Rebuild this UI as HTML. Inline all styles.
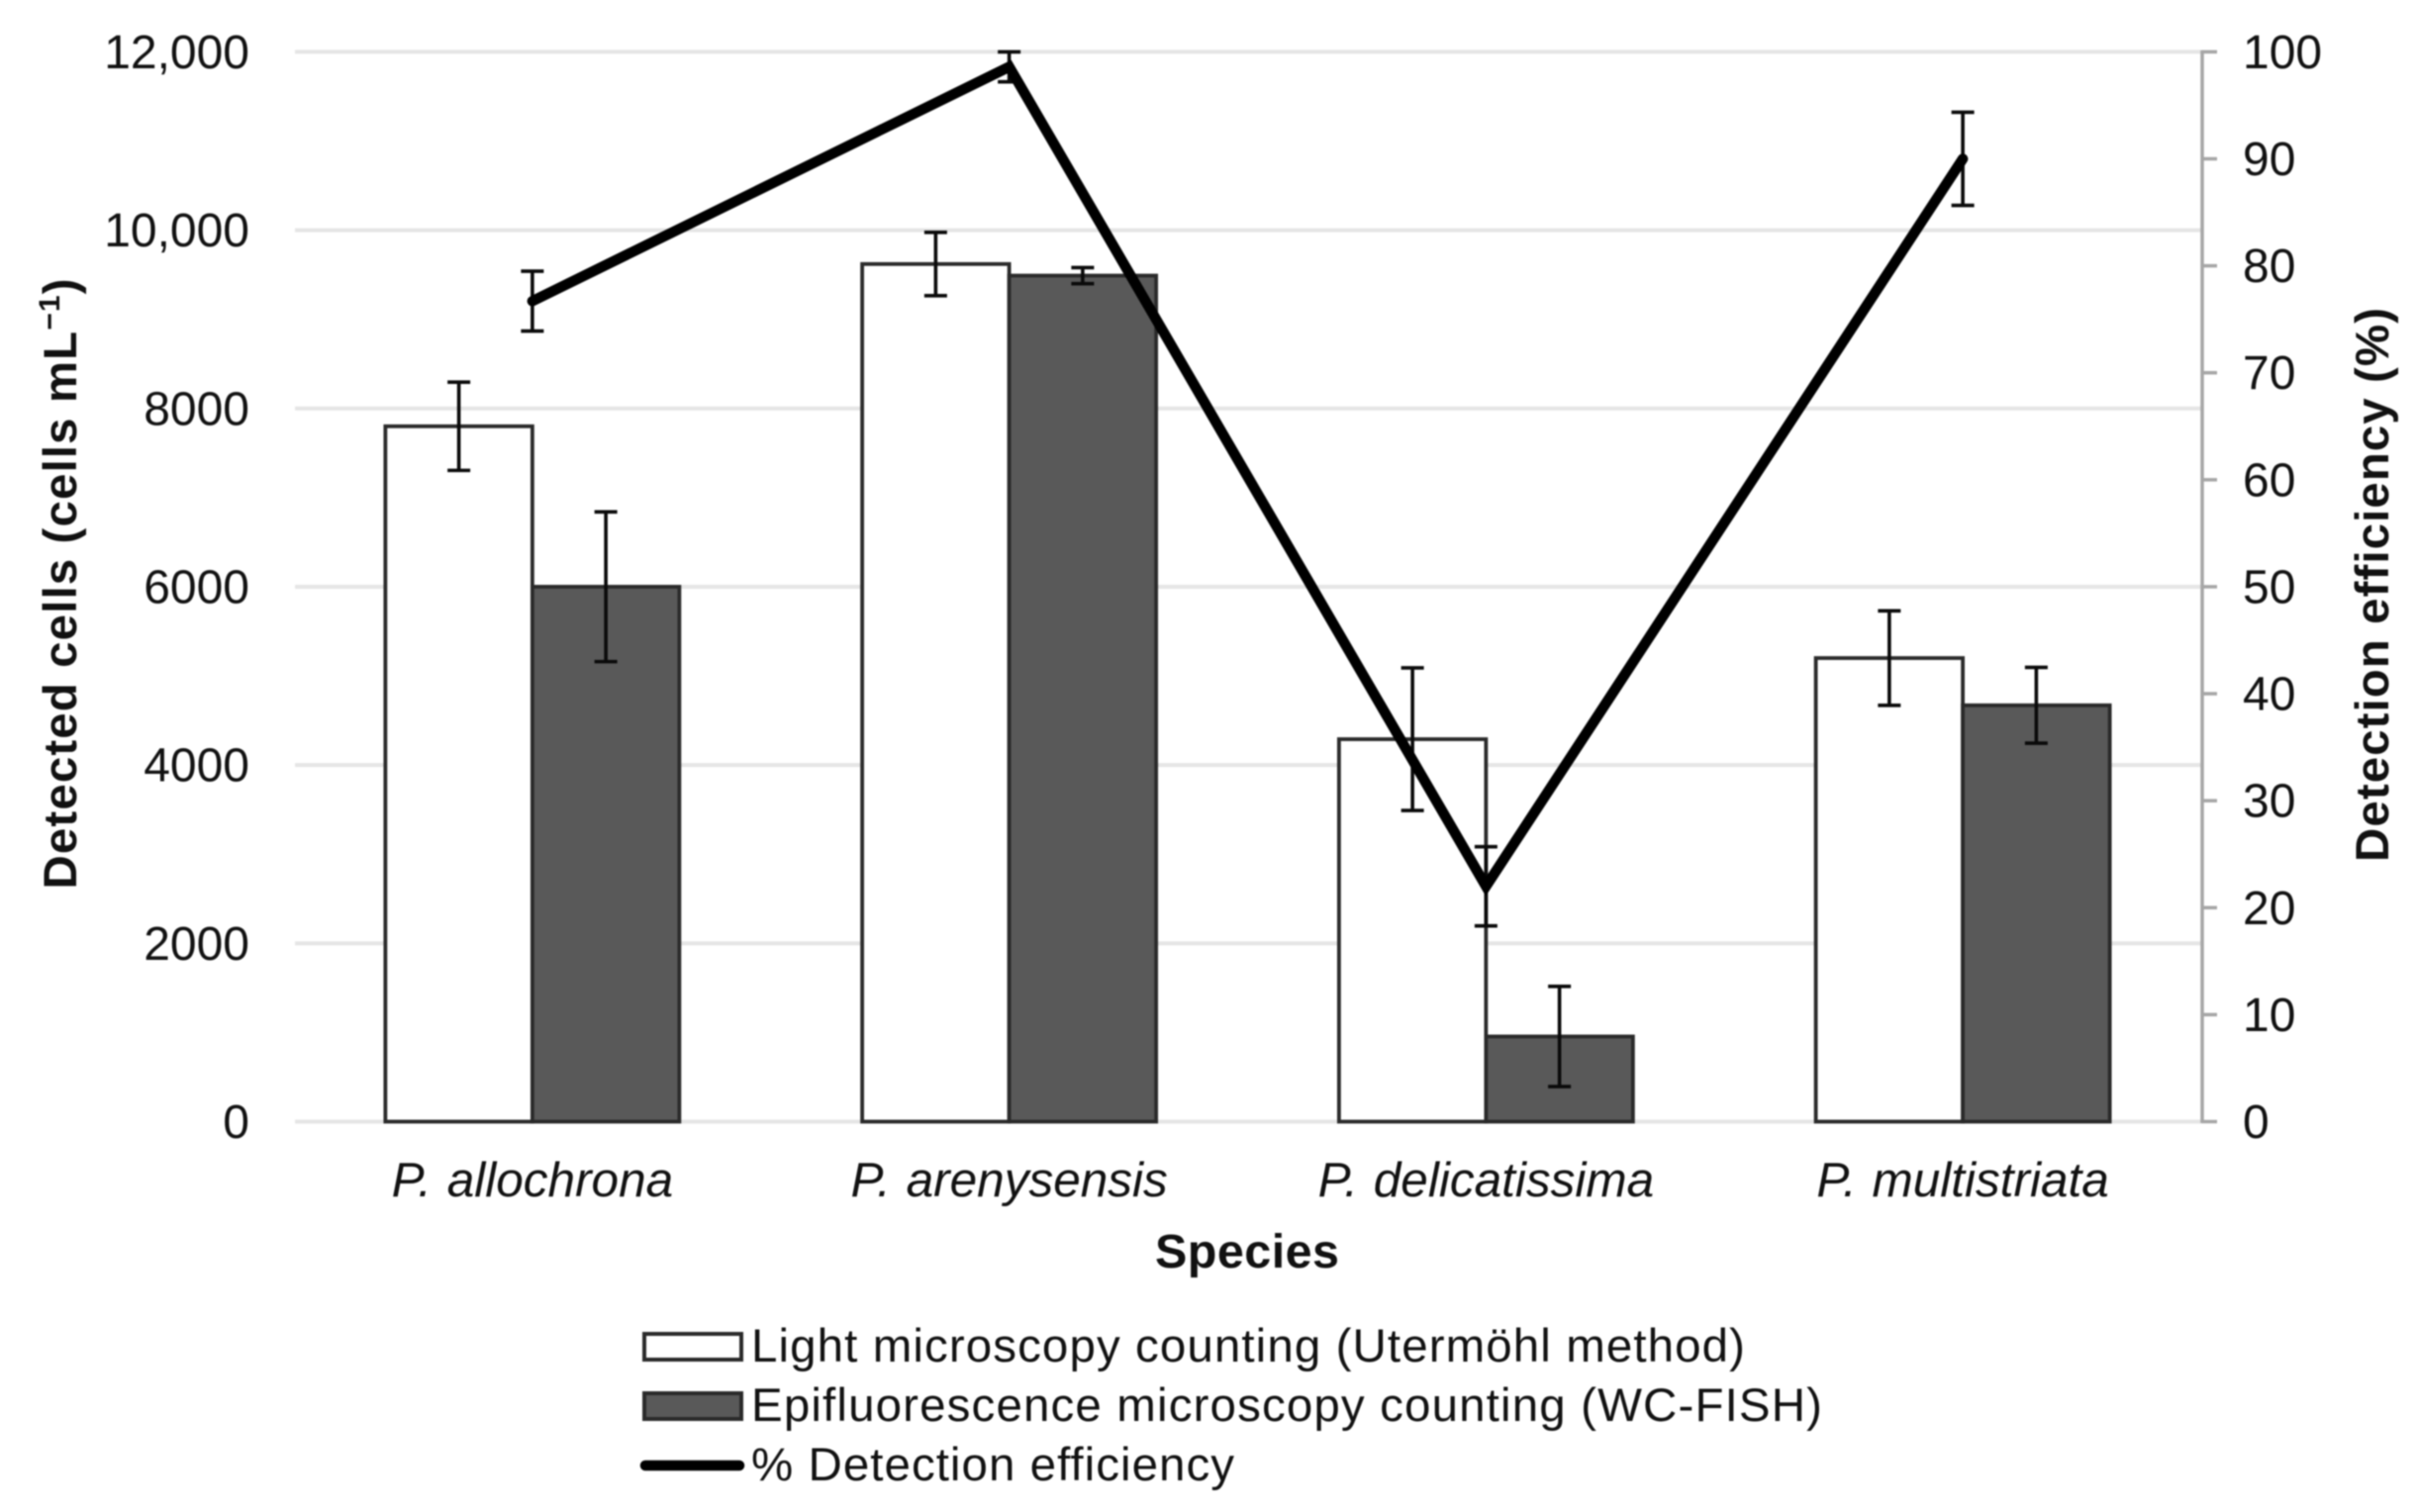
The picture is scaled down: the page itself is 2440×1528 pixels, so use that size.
<!DOCTYPE html>
<html lang="en">
<head>
<meta charset="utf-8">
<title>Detected cells and detection efficiency by species</title>
<style>
html,body{margin:0;padding:0;background:#fff;}
body{width:2440px;height:1528px;overflow:hidden;}
svg{display:block;font-family:"Liberation Sans",sans-serif;filter:blur(0.7px);}
text{fill:#111111;}
</style>
</head>
<body>
<svg id="chart" xmlns="http://www.w3.org/2000/svg" width="2440" height="1528" viewBox="0 0 2440 1528">
  <rect x="0" y="0" width="2440" height="1528" fill="#ffffff"/>
  <g id="grid"></g>
  <g id="bars"></g>
  <g id="barErrors"></g>
  <g id="lineErrors"></g>
  <g id="lineLayer"></g>
  <g id="axes"></g>

  <text transform="translate(77,590) rotate(-90)" text-anchor="middle" font-size="47.5" font-weight="700" textLength="617" lengthAdjust="spacing">Detected cells (cells mL<tspan dy="-17" font-size="30">−1</tspan><tspan dy="17">)</tspan></text>
  <text transform="translate(2413,591) rotate(-90)" text-anchor="middle" font-size="47.5" font-weight="700" textLength="560" lengthAdjust="spacing">Detection efficiency (%)</text>
  <text x="1260" y="1281" text-anchor="middle" font-size="48.5" font-weight="700" textLength="186" lengthAdjust="spacing">Species</text>

  <g>
    <g>
      <rect x="651" y="1348" width="98" height="26" fill="#ffffff" stroke="#2a2a2a" stroke-width="4"/>
      <text x="759" y="1376" font-size="47.5" textLength="1004" lengthAdjust="spacing">Light microscopy counting (Utermöhl method)</text>
    </g>
    <g>
      <rect x="651" y="1408" width="98" height="26" fill="#595959" stroke="#2a2a2a" stroke-width="4"/>
      <text x="759" y="1436" font-size="47.5" textLength="1082" lengthAdjust="spacing">Epifluorescence microscopy counting (WC-FISH)</text>
    </g>
    <g>
      <line x1="652" y1="1481" x2="747" y2="1481" stroke="#000000" stroke-width="10.5" stroke-linecap="round"/>
      <text x="759" y="1496" font-size="47.5" textLength="488" lengthAdjust="spacing">% Detection efficiency</text>
    </g>
  </g>
</svg>

<script>
var categories = ["P. allochrona", "P. arenysensis", "P. delicatissima", "P. multistriata"];
var lightCounts = [7800, 9620, 4290, 5200];
var lightErrors = [495, 355, 800, 530];
var epiCounts = [6000, 9490, 955, 4670];
var epiErrors = [840, 90, 562, 425];
var efficiency = [76.7, 98.6, 22, 90];
var efficiencyErrors = [2.8, 1.4, 3.7, 4.35];
var leftTickValues = [0, 2000, 4000, 6000, 8000, 10000, 12000];
var leftTickLabels = ["0", "2000", "4000", "6000", "8000", "10,000", "12,000"];
var rightTickValues = [0, 10, 20, 30, 40, 50, 60, 70, 80, 90, 100];
var rightTickLabels = ["0", "10", "20", "30", "40", "50", "60", "70", "80", "90", "100"];

var NS = "http://www.w3.org/2000/svg";
var plotLeft = 298, plotRight = 2225, plotTop = 52.4, plotBottom = 1133.5;
var leftMax = 12000, rightMax = 100;
var catWidth = (plotRight - plotLeft) / categories.length;
var barWidth = 148.5;

function yLeft(v) { return plotBottom - (v / leftMax) * (plotBottom - plotTop); }
function yRight(v) { return plotBottom - (v / rightMax) * (plotBottom - plotTop); }
function xCat(i) { return plotLeft + catWidth * (i + 0.5) - 1; }

function make(tag, attrs, parent) {
  var node = document.createElementNS(NS, tag);
  for (var k in attrs) { node.setAttribute(k, attrs[k]); }
  parent.appendChild(node);
  return node;
}
function slug(s) { return s.toLowerCase().replace(/[^a-z]+/g, '-'); }

var grid = document.getElementById('grid');
var bars = document.getElementById('bars');
var barErrors = document.getElementById('barErrors');
var lineErrors = document.getElementById('lineErrors');
var lineLayer = document.getElementById('lineLayer');
var axes = document.getElementById('axes');

leftTickValues.forEach(function (v, i) {
  var el = make('line', {x1: plotLeft, x2: plotRight, y1: yLeft(v), y2: yLeft(v), stroke: '#e5e5e5', 'stroke-width': 4}, grid);
  
  
  var t = make('text', {x: 252, y: yLeft(v) + 16.5, 'text-anchor': 'end', 'font-size': 48}, axes);
  t.textContent = leftTickLabels[i];
  
  
});

var rightAxis = make('line', {x1: plotRight, x2: plotRight, y1: plotTop - 1.5, y2: plotBottom + 1.5, stroke: '#a6a6a6', 'stroke-width': 3.5}, axes);



rightTickValues.forEach(function (v, i) {
  var tick = make('line', {x1: plotRight, x2: plotRight + 15, y1: yRight(v), y2: yRight(v), stroke: '#a6a6a6', 'stroke-width': 3.5}, axes);
  
  
  var t = make('text', {x: 2266, y: yRight(v) + 16.5, 'font-size': 48}, axes);
  t.textContent = rightTickLabels[i];
  
  
});

function errorBar(parent, x, yHigh, yLow, name) {
  var g = make('g', {stroke: '#0a0a0a', 'stroke-width': 3.6}, parent);
  
  
  make('line', {x1: x, x2: x, y1: yHigh, y2: yLow}, g);
  make('line', {x1: x - 11.5, x2: x + 11.5, y1: yHigh, y2: yHigh}, g);
  make('line', {x1: x - 11.5, x2: x + 11.5, y1: yLow, y2: yLow}, g);
}

categories.forEach(function (c, i) {
  var cx = xCat(i), s = slug(c);

  var light = make('rect', {x: cx - barWidth, y: yLeft(lightCounts[i]), width: barWidth, height: plotBottom - yLeft(lightCounts[i]), fill: '#ffffff', stroke: '#2a2a2a', 'stroke-width': 3.8}, bars);
  
  

  var epi = make('rect', {x: cx, y: yLeft(epiCounts[i]), width: barWidth, height: plotBottom - yLeft(epiCounts[i]), fill: '#595959', stroke: '#2a2a2a', 'stroke-width': 3.8}, bars);
  
  

  errorBar(barErrors, cx - barWidth / 2, yLeft(lightCounts[i] + lightErrors[i]), yLeft(lightCounts[i] - lightErrors[i]), 'error-bar-light-' + s);
  errorBar(barErrors, cx + barWidth / 2, yLeft(epiCounts[i] + epiErrors[i]), yLeft(epiCounts[i] - epiErrors[i]), 'error-bar-epifluorescence-' + s);
  errorBar(lineErrors, cx, yRight(efficiency[i] + efficiencyErrors[i]), yRight(efficiency[i] - efficiencyErrors[i]), 'error-bar-efficiency-' + s);

  var label = make('text', {x: cx, y: 1209, 'text-anchor': 'middle', 'font-size': 49.5, 'font-style': 'italic', 'word-spacing': 2}, axes);
  label.textContent = c;
  
  
});

var pts = efficiency.map(function (v, i) { return xCat(i) + ',' + yRight(v); }).join(' ');
var effLine = make('polyline', {points: pts, fill: 'none', stroke: '#000000', 'stroke-width': 10.5, 'stroke-linejoin': 'miter', 'stroke-miterlimit': 6, 'stroke-linecap': 'round'}, lineLayer);


</script>
</body>
</html>
